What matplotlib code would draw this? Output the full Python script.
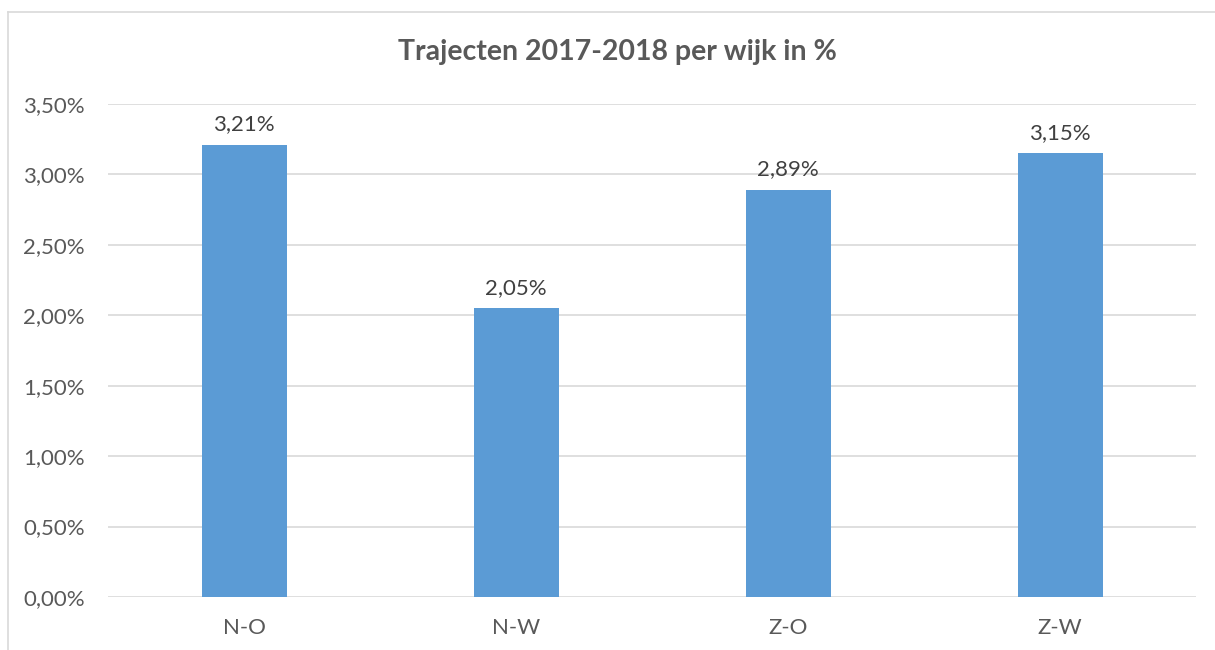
import matplotlib.pyplot as plt
from matplotlib.lines import Line2D

categories = ["N-O", "N-W", "Z-O", "Z-W"]
values = [3.21, 2.05, 2.89, 3.15]
yticks = [0, 0.5, 1.0, 1.5, 2.0, 2.5, 3.0, 3.5]

plt.rcParams["font.family"] = ["Lato", "DejaVu Sans"]

fig = plt.figure(figsize=(12.15, 6.5), dpi=100)
ax = fig.add_axes([108 / 1215, 1 - 597 / 650, 1088 / 1215, (597 - 104) / 650])

x = range(len(categories))
ax.bar(x, values, width=0.3125, color="#5b9bd5", zorder=3)
for i, v in zip(x, values):
    ax.text(i, v + 0.075, f"{v:.2f}%".replace(".", ","), ha="center", va="bottom",
            fontsize=16, color="#404040")

ax.set_xlim(-0.5, len(categories) - 0.5)
ax.set_ylim(0, 3.5)
ax.set_yticks(yticks)
ax.set_yticklabels([f"{t:.2f}%".replace(".", ",") for t in yticks])
ax.set_xticks(list(x))
ax.set_xticklabels(categories)
ax.tick_params(axis="both", length=0, labelsize=16, colors="#595959")
ax.tick_params(axis="y", pad=16.5)
ax.tick_params(axis="x", pad=15)
ax.grid(axis="y", color="#d9d9d9", linewidth=1.2, zorder=0)
for s in ax.spines.values():
    s.set_visible(False)

fig.text(617 / 1215, 1 - 52 / 650, "Trajecten 2017-2018 per wijk in %", ha="center", va="center",
         fontsize=20.5, fontweight="bold", color="#595959")

# chart border (cropped on right and bottom)
fig.add_artist(Line2D([8 / 1215, 8 / 1215], [0, 1 - 12 / 650], color="#d9d9d9", linewidth=1.2,
                      transform=fig.transFigure))
fig.add_artist(Line2D([8 / 1215, 1], [1 - 12 / 650, 1 - 12 / 650], color="#d9d9d9", linewidth=1.2,
                      transform=fig.transFigure))

fig.savefig("out.png", dpi=100)
